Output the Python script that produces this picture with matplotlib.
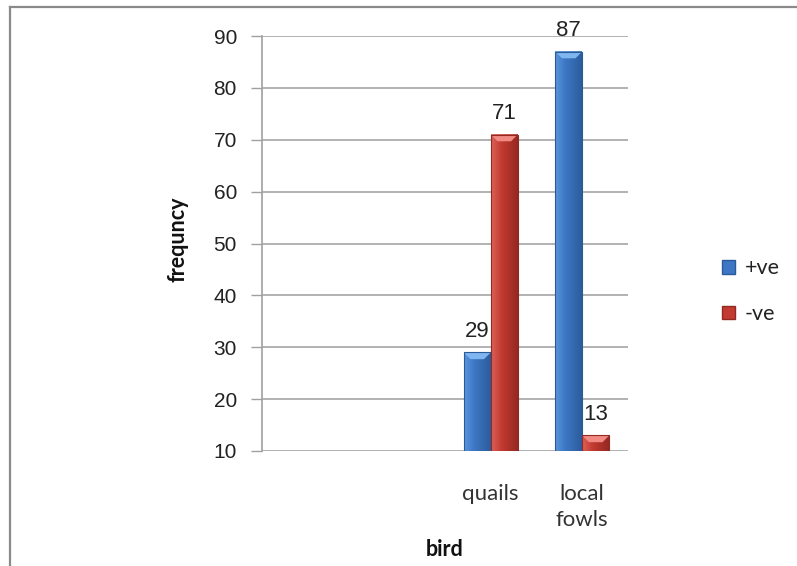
import numpy as np
import matplotlib
matplotlib.use("Agg")
import matplotlib.pyplot as plt
from matplotlib.patches import Rectangle, Polygon
from matplotlib.lines import Line2D
from matplotlib.colors import LinearSegmentedColormap

# Data
categories = ["", "", "quails", "local\nfowls"]
series_names = ["+ve", "-ve"]
positive = [None, None, 29, 87]
negative = [None, None, 71, 13]
y_ticks = [10, 20, 30, 40, 50, 60, 70, 80, 90]

W, H = 797, 566
fig = plt.figure(figsize=(W / 100, H / 100), dpi=100)
fig.patch.set_facecolor("white")

ax = fig.add_axes([262 / W, 1 - 451 / H, (628 - 262) / W, (451 - 36) / H])

num_font = ["Liberation Sans", "DejaVu Sans"]
txt_font = ["Lato", "DejaVu Sans"]

bar_w = 0.295
styles = {
    "+ve": dict(cmap=["#5a96dc", "#3c76c4", "#2c5c9c"], top="#7fb6f0", edge="#2b5a98"),
    "-ve": dict(cmap=["#dc625a", "#c23a31", "#952822"], top="#f08a82", edge="#922a24"),
}

x = np.arange(len(categories))
ylo, yhi = 10, 90


def draw_bar(xc, val, st):
    base = max(0, ylo)
    rect = Rectangle((xc - bar_w / 2, base), bar_w, val - base, facecolor=st["cmap"][1],
                     edgecolor="none", zorder=3)
    ax.add_patch(rect)
    cm = LinearSegmentedColormap.from_list("g", st["cmap"])
    grad = np.concatenate([np.linspace(0.0, 0.5, 40), np.linspace(0.5, 1.0, 60)])[None, :]
    ax.imshow(grad, cmap=cm, aspect="auto", zorder=4,
              extent=[xc - bar_w / 2, xc + bar_w / 2, base, val])
    # bevelled top
    bev = Polygon([[xc - bar_w / 2, val], [xc + bar_w / 2, val],
                   [xc + bar_w * 0.25, val - 1.3], [xc - bar_w * 0.25, val - 1.3]],
                  closed=True, facecolor=st["top"], edgecolor="none", zorder=5)
    ax.add_patch(bev)
    ax.add_patch(Rectangle((xc - bar_w / 2, base), bar_w, val - base, fill=False,
                           edgecolor=st["edge"], lw=0.8, zorder=6))
    ax.annotate(f"{val}", (xc, val), xytext=(0, 11), textcoords="offset points",
                ha="center", va="baseline", fontsize=16, family=num_font,
                color="#222222", zorder=7)


for i in range(len(categories)):
    if positive[i] is not None:
        draw_bar(x[i] - bar_w / 2, positive[i], styles["+ve"])
    if negative[i] is not None:
        draw_bar(x[i] + bar_w / 2, negative[i], styles["-ve"])

ax.set_xlim(-0.5, len(categories) - 0.5)
ax.set_ylim(ylo, yhi)
ax.set_yticks(y_ticks)
ax.set_yticklabels([str(t) for t in y_ticks], fontsize=15, family=num_font, color="#222222")
ax.set_xticks(x)
ax.set_xticklabels(categories, fontsize=16, family=txt_font, color="#333333",
                   linespacing=1.35, va="top")
ax.tick_params(axis="x", length=0, pad=24)
ax.tick_params(axis="y", length=8, width=1, color="#a0a0a0", pad=10)
ax.yaxis.grid(True, color="#a6a6a6", lw=1.2, zorder=0)
ax.set_axisbelow(True)
for s in ["top", "right", "bottom"]:
    ax.spines[s].set_visible(False)
ax.spines["left"].set_color("#a0a0a0")
ax.spines["left"].set_linewidth(1.2)

fig.text(178 / W, 1 - 239 / H, "frequncy", rotation=90, ha="center", va="center",
         fontsize=15.5, fontweight="bold", family=txt_font, color="#111111")
fig.text(445 / W, 1 - 550 / H, "bird", ha="center", va="center",
         fontsize=15.5, fontweight="bold", family=txt_font, color="#111111")

handles = [Rectangle((0, 0), 1, 1, facecolor=styles[n]["cmap"][1],
                     edgecolor=styles[n]["edge"]) for n in series_names]
leg = fig.legend(handles, series_names, loc="upper left",
                 bbox_to_anchor=(703 / W, 1 - 239 / H), frameon=False,
                 prop={"family": txt_font, "size": 15.5}, handlelength=0.6,
                 handleheight=0.6, handletextpad=0.45, labelspacing=1.2)
for t in leg.get_texts():
    t.set_color("#222222")

# outer frame (top and left edges)
fig.add_artist(Line2D([10 / W, 1], [1 - 6.5 / H, 1 - 6.5 / H], transform=fig.transFigure,
                      color="#8a8a8a", lw=1.6))
fig.add_artist(Line2D([10 / W, 10 / W], [0, 1 - 6.5 / H], transform=fig.transFigure,
                      color="#8a8a8a", lw=1.6))

fig.savefig("out.png", dpi=100, facecolor="white")
